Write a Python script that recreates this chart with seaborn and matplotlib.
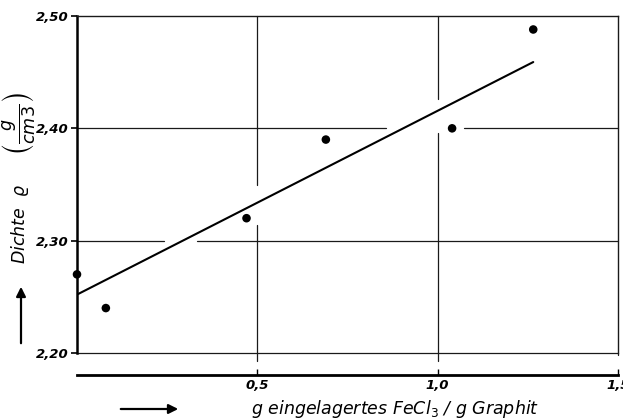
import matplotlib
matplotlib.use("Agg")
import matplotlib.pyplot as plt
import seaborn as sns
import pandas as pd

# ---- data ----
x_fecl3 = [0.0, 0.08, 0.47, 0.69, 1.04, 1.265]
y_dichte = [2.270, 2.240, 2.320, 2.390, 2.400, 2.488]
fit_x = [0.0, 1.265]
fit_y = [2.252, 2.459]
x_ticks = [0.5, 1.0, 1.5]
x_ticklabels = ["0,5", "1,0", "1,5"]
y_ticks = [2.20, 2.30, 2.40, 2.50]
y_ticklabels = ["2,20", "2,30", "2,40", "2,50"]

sns.set_theme(style="white")
plt.rcParams["font.family"] = ["DejaVu Sans"]
plt.rcParams["mathtext.fontset"] = "dejavusans"
plt.rcParams["text.color"] = "black"

W, H = 623, 420
fig = plt.figure(figsize=(W / 100, H / 100), dpi=100)
fig.patch.set_facecolor("white")
ax = fig.add_axes([77 / W, 1 - 353 / H, (618 - 77) / W, (353 - 16) / H])
ax.set_facecolor("white")
ax.set_xlim(0, 1.5)
ax.set_ylim(2.20, 2.50)

# grid lines (hand drawn style, with gaps where the curve passes)
gk = dict(color="#1a1a1a", lw=0.9, zorder=1, clip_on=False)
ax.plot([0, 0.242], [2.30, 2.30], **gk)
ax.plot([0.333, 1.5], [2.30, 2.30], **gk)
ax.plot([0, 0.856], [2.40, 2.40], **gk)
ax.plot([1.072, 1.5], [2.40, 2.40], **gk)
ax.plot([0, 1.5], [2.20, 2.20], **gk)
ax.plot([0.5, 0.5], [2.50, 2.3495], **gk)
ax.plot([0.5, 0.5], [2.314, 2.193], **gk)
ax.plot([1.0, 1.0], [2.50, 2.426], **gk)
ax.plot([1.0, 1.0], [2.396, 2.193], **gk)
ax.plot([1.5, 1.5], [2.20, 2.198], **gk)

df_pts = pd.DataFrame({"x": x_fecl3, "y": y_dichte})
df_fit = pd.DataFrame({"x": fit_x, "y": fit_y})
sns.lineplot(data=df_fit, x="x", y="y", ax=ax, color="black", lw=1.5, zorder=3)
sns.scatterplot(data=df_pts, x="x", y="y", ax=ax, color="black", s=38,
                edgecolor="none", zorder=4, clip_on=False)

# spines
for side in ["top", "right"]:
    ax.spines[side].set_visible(True)
    ax.spines[side].set_linewidth(1.0)
    ax.spines[side].set_color("#1a1a1a")
ax.spines["left"].set_linewidth(1.8)
ax.spines["left"].set_color("black")
ax.spines["bottom"].set_position(("outward", 16))
ax.spines["bottom"].set_linewidth(2.0)
ax.spines["bottom"].set_color("black")

ax.set_xticks(x_ticks)
ax.set_xticklabels(x_ticklabels)
ax.set_yticks(y_ticks)
ax.set_yticklabels(y_ticklabels)
ax.tick_params(axis="x", direction="in", length=4, width=1.0, pad=3,
               labelsize=9.5, colors="black", bottom=True)
ax.tick_params(axis="y", direction="out", length=4, width=1.2, pad=2,
               labelsize=9.5, colors="black", left=True)
for lab in ax.get_xticklabels() + ax.get_yticklabels():
    lab.set_fontstyle("italic")
    lab.set_fontweight("semibold")
ax.set_xlabel("")
ax.set_ylabel("")

# axis titles
fig.text(395 / W, 1 - 409 / H, "g eingelagertes FeCl$_3$ / g Graphit",
         ha="center", va="center", fontsize=12.5, fontstyle="italic",
         color="black")
fig.text(20 / W, 1 - 224 / H, r"Dichte  $\varrho$",
         rotation=90, ha="center", va="center", fontsize=12.5,
         fontstyle="italic", color="black")
fig.text(20 / W, 1 - 124 / H, r"$\left(\frac{g}{cm3}\right)$",
         rotation=90, ha="center", va="center", fontsize=18, color="black")

# arrows
ax.annotate("", xy=(181, H - 409), xytext=(118, H - 409),
            xycoords="figure pixels", textcoords="figure pixels",
            arrowprops=dict(arrowstyle="-|>", lw=1.6, color="black",
                            mutation_scale=14))
ax.annotate("", xy=(21, H - 284), xytext=(21, H - 346),
            xycoords="figure pixels", textcoords="figure pixels",
            arrowprops=dict(arrowstyle="-|>", lw=1.6, color="black",
                            mutation_scale=14))

fig.savefig("out.png", dpi=100)
